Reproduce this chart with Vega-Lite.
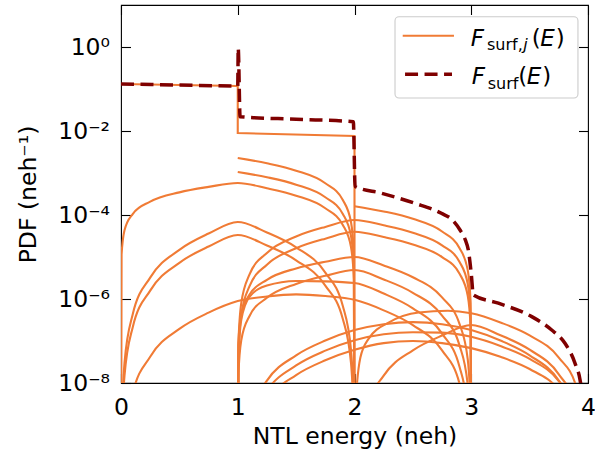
{
  "$schema": "https://vega.github.io/schema/vega-lite/v6.json",
  "width": 467,
  "height": 378,
  "autosize": {"type": "none"},
  "padding": {"left": 121, "top": 5, "right": 7, "bottom": 75},
  "background": "white",
  "config": {
    "view": {"stroke": "#000000", "strokeWidth": 1.1},
    "font": "DejaVu Sans",
    "axis": {
      "grid": false,
      "domain": false,
      "zindex": 1,
      "tickColor": "#000000",
      "tickWidth": 1.1,
      "tickSize": -9.5,
      "labelFlush": false,
      "labelFont": "DejaVu Sans",
      "labelFontSize": 23.5,
      "labelColor": "#000000",
      "titleFont": "DejaVu Sans",
      "titleFontSize": 23.5,
      "titleFontWeight": "normal",
      "titleColor": "#000000"
    }
  },
  "data": {"values": [{}]},
  "datasets": {
    "curves": [
      {"curve": "B", "E": 0, "PDF": 1e-12}, {"curve": "B", "E": 0.005, "PDF": 1.146e-5}, {"curve": "B", "E": 0.03, "PDF": 4.315e-5}, {"curve": "B", "E": 0.1, "PDF": 1.052e-4}, {"curve": "B", "E": 0.25, "PDF": 2.075e-4}, {"curve": "B", "E": 0.5, "PDF": 3.459e-4}, {"curve": "B", "E": 0.75, "PDF": 4.667e-4}, {"curve": "B", "E": 1, "PDF": 5.781e-4}, {"curve": "B", "E": 1.25, "PDF": 4.335e-4}, {"curve": "B", "E": 1.5, "PDF": 2.891e-4}, {"curve": "B", "E": 1.75, "PDF": 1.445e-4}, {"curve": "B", "E": 1.9, "PDF": 5.78e-5}, {"curve": "B", "E": 1.97, "PDF": 1.734e-5}, {"curve": "B", "E": 1.995, "PDF": 2.891e-6}, {"curve": "B", "E": 2, "PDF": 1e-12},
      {"curve": "A1", "E": 1, "PDF": 2.275e-3}, {"curve": "A1", "E": 1.25, "PDF": 1.706e-3}, {"curve": "A1", "E": 1.5, "PDF": 1.138e-3}, {"curve": "A1", "E": 1.75, "PDF": 5.689e-4}, {"curve": "A1", "E": 1.9, "PDF": 2.275e-4}, {"curve": "A1", "E": 1.97, "PDF": 6.823e-5}, {"curve": "A1", "E": 1.995, "PDF": 1.138e-5}, {"curve": "A1", "E": 2, "PDF": 1e-12},
      {"curve": "A2", "E": 1, "PDF": 1.057e-3}, {"curve": "A2", "E": 1.25, "PDF": 7.925e-4}, {"curve": "A2", "E": 1.5, "PDF": 5.284e-4}, {"curve": "A2", "E": 1.75, "PDF": 2.642e-4}, {"curve": "A2", "E": 1.9, "PDF": 1.057e-4}, {"curve": "A2", "E": 1.97, "PDF": 3.17e-5}, {"curve": "A2", "E": 1.995, "PDF": 5.284e-6}, {"curve": "A2", "E": 2, "PDF": 1e-12},
      {"curve": "R2", "E": 0, "PDF": 1e-12}, {"curve": "R2", "E": 0.005, "PDF": 5.9e-10}, {"curve": "R2", "E": 0.03, "PDF": 3.034e-8}, {"curve": "R2", "E": 0.1, "PDF": 4.295e-7}, {"curve": "R2", "E": 0.25, "PDF": 3.228e-6}, {"curve": "R2", "E": 0.5, "PDF": 1.483e-5}, {"curve": "R2", "E": 0.75, "PDF": 3.614e-5}, {"curve": "R2", "E": 1, "PDF": 6.808e-5}, {"curve": "R2", "E": 1.25, "PDF": 3.828e-5}, {"curve": "R2", "E": 1.5, "PDF": 1.702e-5}, {"curve": "R2", "E": 1.75, "PDF": 4.256e-6}, {"curve": "R2", "E": 1.9, "PDF": 6.808e-7}, {"curve": "R2", "E": 1.97, "PDF": 6.124e-8}, {"curve": "R2", "E": 1.995, "PDF": 1.7e-9}, {"curve": "R2", "E": 2, "PDF": 1e-12},
      {"curve": "R3", "E": 0, "PDF": 1e-12}, {"curve": "R3", "E": 0.005, "PDF": 2.9e-10}, {"curve": "R3", "E": 0.03, "PDF": 1.489e-8}, {"curve": "R3", "E": 0.1, "PDF": 2.109e-7}, {"curve": "R3", "E": 0.25, "PDF": 1.585e-6}, {"curve": "R3", "E": 0.5, "PDF": 7.278e-6}, {"curve": "R3", "E": 0.75, "PDF": 1.774e-5}, {"curve": "R3", "E": 1, "PDF": 3.342e-5}, {"curve": "R3", "E": 1.25, "PDF": 1.879e-5}, {"curve": "R3", "E": 1.5, "PDF": 8.356e-6}, {"curve": "R3", "E": 1.75, "PDF": 2.089e-6}, {"curve": "R3", "E": 1.9, "PDF": 3.342e-7}, {"curve": "R3", "E": 1.97, "PDF": 3.006e-8}, {"curve": "R3", "E": 1.995, "PDF": 8.4e-10}, {"curve": "R3", "E": 2, "PDF": 1e-12},
      {"curve": "R4", "E": 0, "PDF": 1e-12}, {"curve": "R4", "E": 0.03, "PDF": 4.0e-10}, {"curve": "R4", "E": 0.1, "PDF": 5.623e-9}, {"curve": "R4", "E": 0.25, "PDF": 4.227e-8}, {"curve": "R4", "E": 0.5, "PDF": 1.941e-7}, {"curve": "R4", "E": 0.75, "PDF": 4.732e-7}, {"curve": "R4", "E": 1, "PDF": 8.913e-7}, {"curve": "R4", "E": 1.25, "PDF": 1.148e-6}, {"curve": "R4", "E": 1.5, "PDF": 1.288e-6}, {"curve": "R4", "E": 1.75, "PDF": 1.175e-6}, {"curve": "R4", "E": 2, "PDF": 9.55e-7}, {"curve": "R4", "E": 2.25, "PDF": 5.37e-7}, {"curve": "R4", "E": 2.5, "PDF": 2.388e-7}, {"curve": "R4", "E": 2.75, "PDF": 5.97e-8}, {"curve": "R4", "E": 2.9, "PDF": 9.55e-9}, {"curve": "R4", "E": 2.97, "PDF": 8.6e-10}, {"curve": "R4", "E": 3, "PDF": 1e-12},
      {"curve": "U1", "E": 1, "PDF": 1e-12}, {"curve": "U1", "E": 1.005, "PDF": 7.745e-8}, {"curve": "U1", "E": 1.03, "PDF": 7.943e-7}, {"curve": "U1", "E": 1.1, "PDF": 3.802e-6}, {"curve": "U1", "E": 1.25, "PDF": 1.25e-5}, {"curve": "U1", "E": 1.5, "PDF": 3.083e-5}, {"curve": "U1", "E": 1.75, "PDF": 5.212e-5}, {"curve": "U1", "E": 2, "PDF": 7.586e-5}, {"curve": "U1", "E": 2.25, "PDF": 5.689e-5}, {"curve": "U1", "E": 2.5, "PDF": 3.793e-5}, {"curve": "U1", "E": 2.75, "PDF": 1.897e-5}, {"curve": "U1", "E": 2.9, "PDF": 7.586e-6}, {"curve": "U1", "E": 2.97, "PDF": 2.275e-6}, {"curve": "U1", "E": 2.995, "PDF": 3.793e-7}, {"curve": "U1", "E": 3, "PDF": 1e-12},
      {"curve": "U1b", "E": 1, "PDF": 1e-12}, {"curve": "U1b", "E": 1.005, "PDF": 4.064e-8}, {"curve": "U1b", "E": 1.03, "PDF": 4.169e-7}, {"curve": "U1b", "E": 1.1, "PDF": 1.995e-6}, {"curve": "U1b", "E": 1.25, "PDF": 6.561e-6}, {"curve": "U1b", "E": 1.5, "PDF": 1.618e-5}, {"curve": "U1b", "E": 1.75, "PDF": 2.735e-5}, {"curve": "U1b", "E": 2, "PDF": 3.981e-5}, {"curve": "U1b", "E": 2.25, "PDF": 2.985e-5}, {"curve": "U1b", "E": 2.5, "PDF": 1.991e-5}, {"curve": "U1b", "E": 2.75, "PDF": 9.954e-6}, {"curve": "U1b", "E": 2.9, "PDF": 3.981e-6}, {"curve": "U1b", "E": 2.97, "PDF": 1.194e-6}, {"curve": "U1b", "E": 2.995, "PDF": 1.991e-7}, {"curve": "U1b", "E": 3, "PDF": 1e-12},
      {"curve": "A3", "E": 2, "PDF": 1.622e-4}, {"curve": "A3", "E": 2.25, "PDF": 1.216e-4}, {"curve": "A3", "E": 2.5, "PDF": 8.11e-5}, {"curve": "A3", "E": 2.75, "PDF": 4.055e-5}, {"curve": "A3", "E": 2.9, "PDF": 1.622e-5}, {"curve": "A3", "E": 2.97, "PDF": 4.864e-6}, {"curve": "A3", "E": 2.995, "PDF": 8.11e-7}, {"curve": "A3", "E": 3, "PDF": 1e-12},
      {"curve": "U3", "E": 1, "PDF": 1e-12}, {"curve": "U3", "E": 1.005, "PDF": 8.492e-8}, {"curve": "U3", "E": 1.03, "PDF": 4.256e-7}, {"curve": "U3", "E": 1.1, "PDF": 1.259e-6}, {"curve": "U3", "E": 1.25, "PDF": 2.871e-6}, {"curve": "U3", "E": 1.5, "PDF": 5.358e-6}, {"curve": "U3", "E": 1.75, "PDF": 7.709e-6}, {"curve": "U3", "E": 2, "PDF": 1e-5}, {"curve": "U3", "E": 2.25, "PDF": 6.31e-6}, {"curve": "U3", "E": 2.5, "PDF": 3.296e-6}, {"curve": "U3", "E": 2.75, "PDF": 1.089e-6}, {"curve": "U3", "E": 2.9, "PDF": 2.512e-7}, {"curve": "U3", "E": 2.97, "PDF": 3.656e-8}, {"curve": "U3", "E": 2.995, "PDF": 2.08e-9}, {"curve": "U3", "E": 3, "PDF": 1e-12},
      {"curve": "U4", "E": 1, "PDF": 1e-12}, {"curve": "U4", "E": 1.005, "PDF": 1.442e-8}, {"curve": "U4", "E": 1.03, "PDF": 1.035e-7}, {"curve": "U4", "E": 1.1, "PDF": 3.89e-7}, {"curve": "U4", "E": 1.25, "PDF": 1.067e-6}, {"curve": "U4", "E": 1.5, "PDF": 2.286e-6}, {"curve": "U4", "E": 1.75, "PDF": 3.565e-6}, {"curve": "U4", "E": 2, "PDF": 4.898e-6}, {"curve": "U4", "E": 2.25, "PDF": 2.917e-6}, {"curve": "U4", "E": 2.5, "PDF": 1.406e-6}, {"curve": "U4", "E": 2.75, "PDF": 4.036e-7}, {"curve": "U4", "E": 2.9, "PDF": 7.762e-8}, {"curve": "U4", "E": 2.97, "PDF": 8.9e-9}, {"curve": "U4", "E": 3, "PDF": 1e-12},
      {"curve": "U5", "E": 1, "PDF": 1e-12}, {"curve": "U5", "E": 1.005, "PDF": 3.162e-8}, {"curve": "U5", "E": 1.03, "PDF": 3.162e-7}, {"curve": "U5", "E": 1.1, "PDF": 1.122e-6}, {"curve": "U5", "E": 1.25, "PDF": 2.089e-6}, {"curve": "U5", "E": 1.5, "PDF": 2.692e-6}, {"curve": "U5", "E": 1.75, "PDF": 2.63e-6}, {"curve": "U5", "E": 2, "PDF": 2.399e-6}, {"curve": "U5", "E": 2.25, "PDF": 1.349e-6}, {"curve": "U5", "E": 2.5, "PDF": 5.998e-7}, {"curve": "U5", "E": 2.75, "PDF": 1.5e-7}, {"curve": "U5", "E": 2.9, "PDF": 2.399e-8}, {"curve": "U5", "E": 2.97, "PDF": 2.2e-9}, {"curve": "U5", "E": 3, "PDF": 1e-12},
      {"curve": "L1", "E": 1, "PDF": 1e-12}, {"curve": "L1", "E": 1.03, "PDF": 1.6e-10}, {"curve": "L1", "E": 1.1, "PDF": 1.82e-9}, {"curve": "L1", "E": 1.25, "PDF": 1.138e-8}, {"curve": "L1", "E": 1.5, "PDF": 4.55e-8}, {"curve": "L1", "E": 1.75, "PDF": 1.023e-7}, {"curve": "L1", "E": 2, "PDF": 1.82e-7}, {"curve": "L1", "E": 2.25, "PDF": 2.512e-7}, {"curve": "L1", "E": 2.5, "PDF": 2.818e-7}, {"curve": "L1", "E": 2.75, "PDF": 2.512e-7}, {"curve": "L1", "E": 3, "PDF": 1.82e-7}, {"curve": "L1", "E": 3.25, "PDF": 1.023e-7}, {"curve": "L1", "E": 3.5, "PDF": 4.55e-8}, {"curve": "L1", "E": 3.75, "PDF": 1.138e-8}, {"curve": "L1", "E": 3.9, "PDF": 1.82e-9}, {"curve": "L1", "E": 4, "PDF": 1e-12},
      {"curve": "L2", "E": 1, "PDF": 1e-12}, {"curve": "L2", "E": 1.1, "PDF": 1.05e-9}, {"curve": "L2", "E": 1.25, "PDF": 6.55e-9}, {"curve": "L2", "E": 1.5, "PDF": 2.618e-8}, {"curve": "L2", "E": 1.75, "PDF": 5.888e-8}, {"curve": "L2", "E": 2, "PDF": 1.047e-7}, {"curve": "L2", "E": 2.25, "PDF": 1.445e-7}, {"curve": "L2", "E": 2.5, "PDF": 1.622e-7}, {"curve": "L2", "E": 2.75, "PDF": 1.585e-7}, {"curve": "L2", "E": 3, "PDF": 1.259e-7}, {"curve": "L2", "E": 3.25, "PDF": 7.603e-8}, {"curve": "L2", "E": 3.5, "PDF": 3.741e-8}, {"curve": "L2", "E": 3.75, "PDF": 1.112e-8}, {"curve": "L2", "E": 3.9, "PDF": 2.24e-9}, {"curve": "L2", "E": 4, "PDF": 1e-12},
      {"curve": "L3", "E": 1, "PDF": 1e-12}, {"curve": "L3", "E": 1.1, "PDF": 6.2e-10}, {"curve": "L3", "E": 1.25, "PDF": 3.85e-9}, {"curve": "L3", "E": 1.5, "PDF": 1.542e-8}, {"curve": "L3", "E": 1.75, "PDF": 3.467e-8}, {"curve": "L3", "E": 2, "PDF": 6.166e-8}, {"curve": "L3", "E": 2.25, "PDF": 8.913e-8}, {"curve": "L3", "E": 2.5, "PDF": 1e-7}, {"curve": "L3", "E": 2.75, "PDF": 8.913e-8}, {"curve": "L3", "E": 3, "PDF": 6.761e-8}, {"curve": "L3", "E": 3.25, "PDF": 4.207e-8}, {"curve": "L3", "E": 3.5, "PDF": 2.153e-8}, {"curve": "L3", "E": 3.75, "PDF": 6.87e-9}, {"curve": "L3", "E": 3.9, "PDF": 1.5e-9}, {"curve": "L3", "E": 4, "PDF": 1e-12},
      {"curve": "M1", "E": 2, "PDF": 1e-12}, {"curve": "M1", "E": 2.01, "PDF": 3.162e-9}, {"curve": "M1", "E": 2.05, "PDF": 3.981e-8}, {"curve": "M1", "E": 2.12, "PDF": 1.122e-7}, {"curve": "M1", "E": 2.3, "PDF": 2.818e-7}, {"curve": "M1", "E": 2.55, "PDF": 4.786e-7}, {"curve": "M1", "E": 2.8, "PDF": 5.248e-7}, {"curve": "M1", "E": 3, "PDF": 4.571e-7}, {"curve": "M1", "E": 3.25, "PDF": 2.761e-7}, {"curve": "M1", "E": 3.5, "PDF": 1.358e-7}, {"curve": "M1", "E": 3.75, "PDF": 4.036e-8}, {"curve": "M1", "E": 3.9, "PDF": 8.13e-9}, {"curve": "M1", "E": 3.97, "PDF": 9.9e-10}, {"curve": "M1", "E": 4, "PDF": 1e-12},
      {"curve": "M2", "E": 2, "PDF": 1e-12}, {"curve": "M2", "E": 2.03, "PDF": 2.16e-10}, {"curve": "M2", "E": 2.1, "PDF": 2.4e-9}, {"curve": "M2", "E": 2.25, "PDF": 1.5e-8}, {"curve": "M2", "E": 2.5, "PDF": 5.998e-8}, {"curve": "M2", "E": 2.75, "PDF": 1.349e-7}, {"curve": "M2", "E": 3, "PDF": 2.399e-7}, {"curve": "M2", "E": 3.25, "PDF": 1.368e-7}, {"curve": "M2", "E": 3.5, "PDF": 6.209e-8}, {"curve": "M2", "E": 3.75, "PDF": 1.607e-8}, {"curve": "M2", "E": 3.9, "PDF": 2.69e-9}, {"curve": "M2", "E": 4, "PDF": 1e-12}
    ],
    "steps": [
      {"i": 0, "E": 0, "PDF": 0.1315},
      {"i": 1, "E": 1, "PDF": 0.1178},
      {"i": 2, "E": 1, "PDF": 0.00895},
      {"i": 3, "E": 2, "PDF": 0.0076},
      {"i": 4, "E": 2, "PDF": 1e-12}
    ],
    "total": [
      {"E": 0, "PDF": 0.1315}, {"E": 0.5, "PDF": 0.1245}, {"E": 1, "PDF": 0.1178}, {"E": 1.004, "PDF": 0.933}, {"E": 1.02, "PDF": 0.02188}, {"E": 1.5, "PDF": 0.01905}, {"E": 1.99, "PDF": 0.01667},
      {"E": 2.005, "PDF": 4.786e-4}, {"E": 2.23, "PDF": 3.311e-4}, {"E": 2.515, "PDF": 1.905e-4}, {"E": 2.744, "PDF": 1.096e-4}, {"E": 2.84, "PDF": 7.586e-5}, {"E": 2.904, "PDF": 4.395e-5}, {"E": 2.95, "PDF": 2.512e-5}, {"E": 2.975, "PDF": 1.469e-5}, {"E": 3.0, "PDF": 3.981e-6},
      {"E": 3.018, "PDF": 1.245e-6}, {"E": 3.232, "PDF": 7.943e-7}, {"E": 3.518, "PDF": 3.802e-7}, {"E": 3.689, "PDF": 1.828e-7}, {"E": 3.803, "PDF": 8.81e-8}, {"E": 3.889, "PDF": 2.944e-8}, {"E": 3.932, "PDF": 1.175e-8}, {"E": 3.95, "PDF": 5.0e-9}, {"E": 3.97, "PDF": 1e-10}
    ]
  },
  "layer": [
    {
      "data": {"name": "curves"},
      "mark": {"type": "line", "interpolate": "monotone", "color": "#f07b35", "strokeWidth": 2.1, "clip": true},
      "encoding": {
        "x": {
          "field": "E", "type": "quantitative",
          "scale": {"domain": [0, 4], "nice": false, "zero": false},
          "axis": {"orient": "bottom", "values": [0, 1, 2, 3, 4], "format": "d", "labelPadding": 22, "title": "NTL energy (neh)", "titlePadding": 5}
        },
        "y": {
          "field": "PDF", "type": "quantitative",
          "scale": {"type": "log", "domain": [1e-8, 10], "nice": false},
          "axis": {
            "orient": "left",
            "values": [1e-8, 1e-6, 1e-4, 1e-2, 1],
            "labelExpr": "['10⁻⁸','10⁻⁷','10⁻⁶','10⁻⁵','10⁻⁴','10⁻³','10⁻²','10⁻¹','10⁰','10¹'][round(log(datum.value)/LN10)+8]",
            "labelPadding": 21,
            "title": "PDF (neh⁻¹)",
            "titlePadding": 17
          }
        },
        "detail": {"field": "curve", "type": "nominal"}
      }
    },
    {
      "data": {"name": "steps"},
      "mark": {"type": "line", "interpolate": "linear", "color": "#f07b35", "strokeWidth": 2.1, "clip": true},
      "encoding": {
        "x": {"field": "E", "type": "quantitative", "axis": null},
        "y": {"field": "PDF", "type": "quantitative", "axis": null},
        "order": {"field": "i", "type": "quantitative"}
      }
    },
    {
      "data": {"name": "total"},
      "mark": {"type": "line", "interpolate": "monotone", "color": "#7f0000", "strokeWidth": 3.5, "strokeDash": [13, 6.5], "clip": true},
      "encoding": {
        "x": {"field": "E", "type": "quantitative", "axis": {"orient": "top", "values": [0, 1, 2, 3, 4], "labels": false, "title": null}},
        "y": {"field": "PDF", "type": "quantitative", "axis": {"orient": "right", "values": [1e-8, 1e-6, 1e-4, 1e-2, 1], "labels": false, "title": null}}
      }
    },
    {
      "mark": {"type": "rect", "fill": "white", "fillOpacity": 0.8, "stroke": "#cccccc", "strokeWidth": 1.1, "cornerRadius": 4},
      "encoding": {
        "x": {"datum": 2.347, "type": "quantitative", "axis": null},
        "x2": {"datum": 3.914},
        "y": {"datum": 5.26, "type": "quantitative", "axis": null},
        "y2": {"datum": 0.061}
      }
    },
    {
      "mark": {"type": "rule", "color": "#f07b35", "strokeWidth": 2.1},
      "encoding": {
        "x": {"datum": 2.413, "type": "quantitative", "axis": null},
        "x2": {"datum": 2.852},
        "y": {"datum": 1.858, "type": "quantitative", "axis": null}
      }
    },
    {
      "mark": {"type": "rule", "color": "#7f0000", "strokeWidth": 3.5, "strokeDash": [13, 6.5]},
      "encoding": {
        "x": {"datum": 2.433, "type": "quantitative", "axis": null},
        "x2": {"datum": 2.835},
        "y": {"datum": 0.2239, "type": "quantitative", "axis": null}
      }
    },
    {
      "mark": {"type": "text", "text": "F", "font": "DejaVu Sans", "fontStyle": "italic", "fontSize": 23, "align": "left", "baseline": "alphabetic", "color": "#000000"},
      "encoding": {"x": {"datum": 2.995, "type": "quantitative", "axis": null}, "y": {"datum": 1.074, "type": "quantitative", "axis": null}}
    },
    {
      "mark": {"type": "text", "text": "surf,", "font": "DejaVu Sans", "fontSize": 16, "align": "left", "baseline": "alphabetic", "dx": 16.3, "dy": 4.5, "color": "#000000"},
      "encoding": {"x": {"datum": 2.995, "type": "quantitative", "axis": null}, "y": {"datum": 1.074, "type": "quantitative", "axis": null}}
    },
    {
      "mark": {"type": "text", "text": "j", "font": "DejaVu Sans", "fontStyle": "italic", "fontSize": 16, "align": "left", "baseline": "alphabetic", "dx": 52.5, "dy": 4.5, "color": "#000000"},
      "encoding": {"x": {"datum": 2.995, "type": "quantitative", "axis": null}, "y": {"datum": 1.074, "type": "quantitative", "axis": null}}
    },
    {
      "mark": {"type": "text", "text": "(", "font": "DejaVu Sans", "fontSize": 23, "align": "left", "baseline": "alphabetic", "dx": 61, "color": "#000000"},
      "encoding": {"x": {"datum": 2.995, "type": "quantitative", "axis": null}, "y": {"datum": 1.074, "type": "quantitative", "axis": null}}
    },
    {
      "mark": {"type": "text", "text": "E", "font": "DejaVu Sans", "fontStyle": "italic", "fontSize": 23, "align": "left", "baseline": "alphabetic", "dx": 69.6, "color": "#000000"},
      "encoding": {"x": {"datum": 2.995, "type": "quantitative", "axis": null}, "y": {"datum": 1.074, "type": "quantitative", "axis": null}}
    },
    {
      "mark": {"type": "text", "text": ")", "font": "DejaVu Sans", "fontSize": 23, "align": "left", "baseline": "alphabetic", "dx": 85, "color": "#000000"},
      "encoding": {"x": {"datum": 2.995, "type": "quantitative", "axis": null}, "y": {"datum": 1.074, "type": "quantitative", "axis": null}}
    },
    {
      "mark": {"type": "text", "text": "F", "font": "DejaVu Sans", "fontStyle": "italic", "fontSize": 23, "align": "left", "baseline": "alphabetic", "dx": 1, "color": "#000000"},
      "encoding": {"x": {"datum": 2.995, "type": "quantitative", "axis": null}, "y": {"datum": 0.1315, "type": "quantitative", "axis": null}}
    },
    {
      "mark": {"type": "text", "text": "surf", "font": "DejaVu Sans", "fontSize": 16, "align": "left", "baseline": "alphabetic", "dx": 17, "dy": 4.5, "color": "#000000"},
      "encoding": {"x": {"datum": 2.995, "type": "quantitative", "axis": null}, "y": {"datum": 0.1315, "type": "quantitative", "axis": null}}
    },
    {
      "mark": {"type": "text", "text": "(", "font": "DejaVu Sans", "fontSize": 23, "align": "left", "baseline": "alphabetic", "dx": 47.6, "color": "#000000"},
      "encoding": {"x": {"datum": 2.995, "type": "quantitative", "axis": null}, "y": {"datum": 0.1315, "type": "quantitative", "axis": null}}
    },
    {
      "mark": {"type": "text", "text": "E", "font": "DejaVu Sans", "fontStyle": "italic", "fontSize": 23, "align": "left", "baseline": "alphabetic", "dx": 56.2, "color": "#000000"},
      "encoding": {"x": {"datum": 2.995, "type": "quantitative", "axis": null}, "y": {"datum": 0.1315, "type": "quantitative", "axis": null}}
    },
    {
      "mark": {"type": "text", "text": ")", "font": "DejaVu Sans", "fontSize": 23, "align": "left", "baseline": "alphabetic", "dx": 71.5, "color": "#000000"},
      "encoding": {"x": {"datum": 2.995, "type": "quantitative", "axis": null}, "y": {"datum": 0.1315, "type": "quantitative", "axis": null}}
    }
  ],
  "resolve": {"axis": {"x": "independent", "y": "independent"}}
}
